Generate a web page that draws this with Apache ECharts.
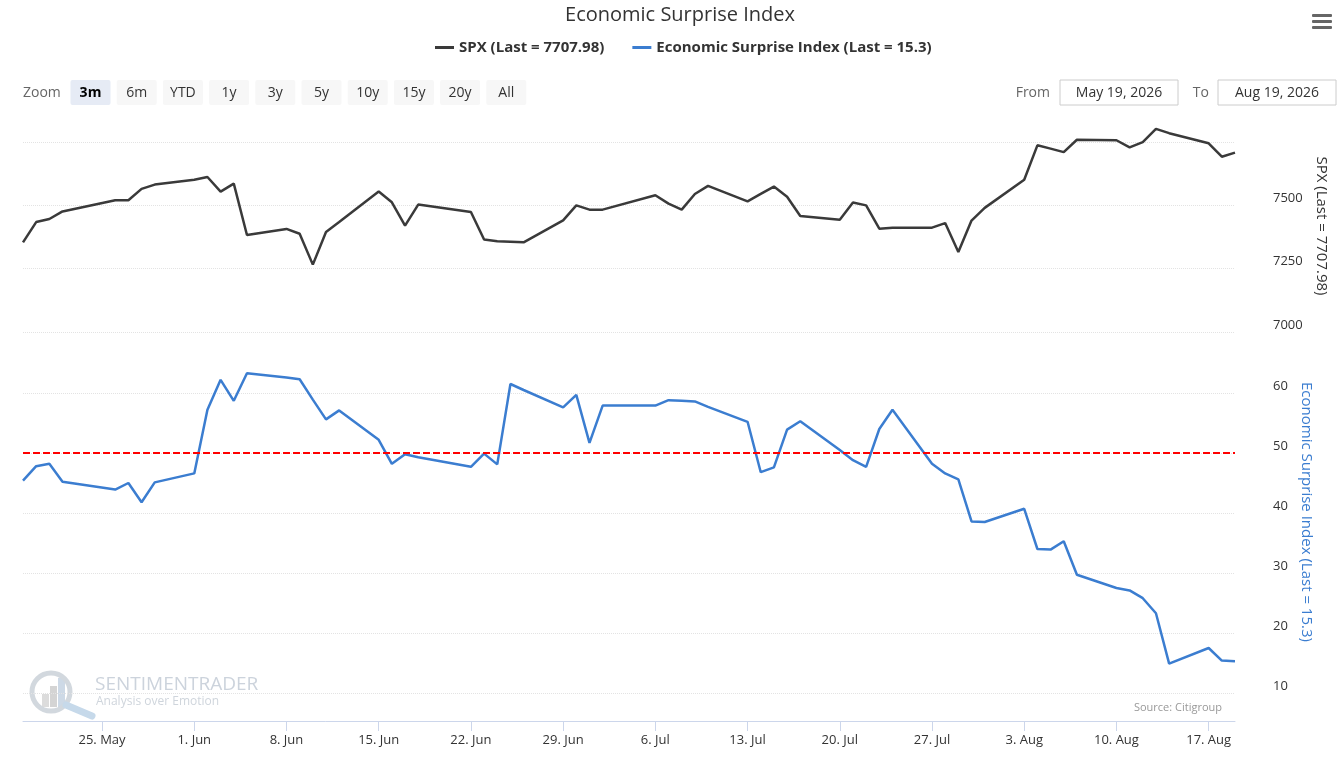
<!DOCTYPE html>
<html lang="en" style="height: 100%">
<head>
<meta charset="utf-8">
<title>Economic Surprise Index</title>
<style>
  html, body { margin: 0; height: 100%; background: #fff; }
  #container { width: 1342px; height: 766px; }
</style>
</head>
<body>
<div id="container"></div>
<script src="https://cdn.jsdelivr.net/npm/echarts@6.0.0/dist/echarts.min.js"></script>
<script>
// trading days shown in the 3m window
var dates = [
  '2026-05-19', '2026-05-20', '2026-05-21', '2026-05-22', '2026-05-26', '2026-05-27', '2026-05-28', '2026-05-29',
  '2026-06-01', '2026-06-02', '2026-06-03', '2026-06-04', '2026-06-05',
  '2026-06-08', '2026-06-09', '2026-06-10', '2026-06-11', '2026-06-12',
  '2026-06-15', '2026-06-16', '2026-06-17', '2026-06-18',
  '2026-06-22', '2026-06-23', '2026-06-24', '2026-06-25', '2026-06-26',
  '2026-06-29', '2026-06-30', '2026-07-01', '2026-07-02',
  '2026-07-06', '2026-07-07', '2026-07-08', '2026-07-09', '2026-07-10',
  '2026-07-13', '2026-07-14', '2026-07-15', '2026-07-16', '2026-07-17',
  '2026-07-20', '2026-07-21', '2026-07-22', '2026-07-23', '2026-07-24',
  '2026-07-27', '2026-07-28', '2026-07-29', '2026-07-30', '2026-07-31',
  '2026-08-03', '2026-08-04', '2026-08-05', '2026-08-06', '2026-08-07',
  '2026-08-10', '2026-08-11', '2026-08-12', '2026-08-13', '2026-08-14',
  '2026-08-17', '2026-08-18', '2026-08-19'
];

var spx = [
  7354, 7434, 7446, 7476, 7520, 7520, 7565, 7582,
  7601, 7612, 7554, 7586, 7383,
  7407, 7388, 7266, 7395, 7434,
  7555, 7512, 7420, 7503,
  7474, 7365, 7358, 7356, 7354,
  7441, 7500, 7483, 7483,
  7540, 7507, 7483, 7545, 7577,
  7516, 7545, 7574, 7534, 7458,
  7443, 7511, 7500, 7408, 7412,
  7412, 7430, 7316, 7440, 7490,
  7601, 7737, 7724, 7710, 7759,
  7757, 7729, 7750, 7802, 7785,
  7745, 7692, 7707.98
];

var esi = [
  45.4, 47.8, 48.2, 45.2, 43.9, 45.0, 41.8, 45.1,
  46.6, 57.2, 62.2, 58.7, 63.3,
  62.6, 62.3, 58.9, 55.6, 57.1,
  52.2, 48.2, 49.8, 49.3,
  47.7, 49.9, 48.1, 61.5, 60.5,
  57.6, 59.7, 51.7, 57.9,
  57.9, 58.8, 58.7, 58.6, 57.7,
  55.2, 46.8, 47.6, 53.9, 55.3,
  50.5, 48.8, 47.7, 54.0, 57.2,
  48.2, 46.6, 45.6, 38.6, 38.5,
  40.7, 34.0, 33.9, 35.3, 29.7,
  27.5, 27.1, 25.8, 23.3, 14.9,
  17.5, 15.4, 15.3
];

var esiReference = 50;

var tickDates = ['2026-05-25', '2026-06-01', '2026-06-08', '2026-06-15', '2026-06-22', '2026-06-29',
  '2026-07-06', '2026-07-13', '2026-07-20', '2026-07-27', '2026-08-03', '2026-08-10', '2026-08-17'];
var tickLabels = ['25. May', '1. Jun', '8. Jun', '15. Jun', '22. Jun', '29. Jun',
  '6. Jul', '13. Jul', '20. Jul', '27. Jul', '3. Aug', '10. Aug', '17. Aug'];
var spxLabels = [7000, 7250, 7500];
var esiLabels = [10, 20, 30, 40, 50, 60];

var zoomButtons = ['3m', '6m', 'YTD', '1y', '3y', '5y', '10y', '15y', '20y', 'All'];
var rangeFrom = 'May 19, 2026';
var rangeTo = 'Aug 19, 2026';

var spxName = 'SPX (Last = 7707.98)';
var esiName = 'Economic Surprise Index (Last = 15.3)';

var SPX_COLOR = '#3a3a3a';
var ESI_COLOR = '#3b7dd0';
var GRID_COLOR = '#e3e3e3';

function ts(s) {
  var p = s.split('-');
  return Date.UTC(+p[0], +p[1] - 1, +p[2]);
}

var tickTs = tickDates.map(ts);
var spxData = dates.map(function (d, i) { return [ts(d), spx[i]]; });
var esiData = dates.map(function (d, i) { return [ts(d), esi[i]]; });

function tickLabel(v) {
  for (var i = 0; i < tickTs.length; i++) {
    if (Math.abs(tickTs[i] - v) < 3600000) return tickLabels[i];
  }
  return '';
}

// range selector, export icon and watermark drawn as graphics
var graphics = [];
graphics.push({
  type: 'text', x: 23, y: 93,
  style: { text: 'Zoom', fontSize: 14, fill: '#666', fontFamily: 'Open Sans', verticalAlign: 'middle' }
});
zoomButtons.forEach(function (b, i) {
  var x = 70.5 + i * 46.2;
  var active = i === 0;
  graphics.push({
    type: 'rect', shape: { x: x, y: 80, width: 40, height: 25, r: 2 },
    style: { fill: active ? '#e6ebf5' : '#f7f7f7' }
  });
  graphics.push({
    type: 'text', x: x + 20, y: 93,
    style: {
      text: b, fontSize: 14, fill: active ? '#000' : '#333',
      fontWeight: active ? 'bold' : 'normal', fontFamily: 'Open Sans',
      align: 'center', verticalAlign: 'middle'
    }
  });
});
graphics.push({
  type: 'text', x: 1050, y: 93,
  style: { text: 'From', fontSize: 14, fill: '#666', fontFamily: 'Open Sans', align: 'right', verticalAlign: 'middle' }
});
graphics.push({
  type: 'rect', shape: { x: 1060, y: 80, width: 118, height: 25 },
  style: { fill: '#fff', stroke: '#cccccc', lineWidth: 1 }
});
graphics.push({
  type: 'text', x: 1119, y: 93,
  style: { text: rangeFrom, fontSize: 14, fill: '#333', fontFamily: 'Open Sans', align: 'center', verticalAlign: 'middle' }
});
graphics.push({
  type: 'text', x: 1209, y: 93,
  style: { text: 'To', fontSize: 14, fill: '#666', fontFamily: 'Open Sans', align: 'right', verticalAlign: 'middle' }
});
graphics.push({
  type: 'rect', shape: { x: 1218, y: 80, width: 118, height: 25 },
  style: { fill: '#fff', stroke: '#cccccc', lineWidth: 1 }
});
graphics.push({
  type: 'text', x: 1277, y: 93,
  style: { text: rangeTo, fontSize: 14, fill: '#333', fontFamily: 'Open Sans', align: 'center', verticalAlign: 'middle' }
});
[14, 20, 26].forEach(function (y) {
  graphics.push({
    type: 'rect', shape: { x: 1312, y: y, width: 20, height: 3, r: 1 },
    style: { fill: '#666' }
  });
});
graphics.push({
  type: 'text', x: 1222, y: 708,
  style: { text: 'Source: Citigroup', fontSize: 11, fill: '#999', fontFamily: 'Open Sans', align: 'right', verticalAlign: 'middle' }
});
// watermark logo
graphics.push({
  type: 'group', silent: true, z: -1,
  children: [
    { type: 'rect', shape: { x: 42, y: 694, width: 7, height: 13 }, style: { fill: '#dcdcdc' } },
    { type: 'rect', shape: { x: 50, y: 686, width: 7, height: 21 }, style: { fill: '#d4d4d4' } },
    { type: 'rect', shape: { x: 58, y: 678, width: 7, height: 29 }, style: { fill: '#cdd9e6' } },
    { type: 'circle', shape: { cx: 51, cy: 692, r: 19 },
      style: { stroke: '#d2d8de', lineWidth: 5, fill: 'none' } },
    { type: 'line', shape: { x1: 66, y1: 705, x2: 92, y2: 716 },
      style: { stroke: '#c6d9ea', lineWidth: 7, lineCap: 'round' } },
    { type: 'text', x: 95, y: 685,
      style: { text: 'SENTIMENTRADER', fontSize: 19, fill: '#ccd3dc', fontFamily: 'Open Sans', verticalAlign: 'middle' } },
    { type: 'text', x: 96, y: 702,
      style: { text: 'Analysis over Emotion', fontSize: 12, fill: '#cfd5dc', fontFamily: 'Open Sans', verticalAlign: 'middle' } }
  ]
});

var dom = document.getElementById('container');
var myChart = echarts.init(dom, null, { renderer: 'canvas' });

var xMin = ts(dates[0]);
var xMax = ts(dates[dates.length - 1]);

var option = {
  animation: false,
  textStyle: { fontFamily: 'Open Sans' },
  title: {
    text: 'Economic Surprise Index',
    left: 675, top: 0, textAlign: 'center',
    textStyle: { fontSize: 20, fontWeight: 'normal', color: '#333' }
  },
  legend: {
    left: 430, top: 35,
    itemWidth: 19, itemHeight: 3, itemGap: 28, icon: 'rect',
    textStyle: { fontSize: 15, fontWeight: 'bold', color: '#333' },
    data: [spxName, esiName]
  },
  graphic: graphics,
  grid: [
    { left: 23, right: 107, top: 120, height: 212 },
    { left: 23, right: 107, top: 333, height: 420 }
  ],
  xAxis: [
    { type: 'value', gridIndex: 0, min: xMin, max: xMax, show: false, splitLine: { show: false } },
    {
      type: 'value', gridIndex: 1, min: xMin, max: xMax, offset: -32,
      axisLine: { show: true, lineStyle: { color: '#ccd6eb', width: 1 } },
      axisTick: { show: true, length: 10, customValues: tickTs, lineStyle: { color: '#ccd6eb' } },
      axisLabel: {
        customValues: tickTs, formatter: tickLabel,
        margin: 13, fontSize: 13, color: '#333'
      },
      splitLine: { show: false }
    }
  ],
  yAxis: [
    {
      type: 'value', gridIndex: 0, position: 'right',
      min: 7000, max: 7837, interval: 250,
      axisLine: { show: false }, axisTick: { show: false },
      splitLine: { show: true, showMaxLine: false, lineStyle: { color: GRID_COLOR, type: 'dotted' } },
      axisLabel: {
        margin: 38, fontSize: 13, color: '#333', verticalAlign: 'bottom', lineHeight: 14,
        formatter: function (v) { return spxLabels.indexOf(v) >= 0 ? String(v) : ''; }
      },
      name: spxName, nameLocation: 'middle', nameRotate: -90, nameGap: 77,
      nameTextStyle: { color: '#333', fontSize: 15 }
    },
    {
      type: 'value', gridIndex: 1, position: 'right',
      min: 0, max: 70, interval: 10,
      axisLine: { show: false }, axisTick: { show: false },
      splitLine: { show: true, showMaxLine: false, showMinLine: false, lineStyle: { color: GRID_COLOR, type: 'dotted' } },
      axisLabel: {
        margin: 38, fontSize: 13, color: '#333', verticalAlign: 'bottom', lineHeight: 14,
        formatter: function (v) { return esiLabels.indexOf(v) >= 0 ? String(v) : ''; }
      },
      name: esiName, nameLocation: 'middle', nameRotate: -90, nameGap: 61,
      nameTextStyle: { color: ESI_COLOR, fontSize: 15, padding: [0, 62, 0, 0] }
    }
  ],
  series: [
    {
      name: spxName, type: 'line', xAxisIndex: 0, yAxisIndex: 0,
      data: spxData, showSymbol: false, color: SPX_COLOR,
      lineStyle: { width: 2.5, color: SPX_COLOR }
    },
    {
      name: esiName, type: 'line', xAxisIndex: 1, yAxisIndex: 1,
      data: esiData, showSymbol: false, color: ESI_COLOR,
      lineStyle: { width: 2.5, color: ESI_COLOR },
      markLine: {
        silent: true, symbol: ['none', 'none'], label: { show: false },
        lineStyle: { color: '#ff0000', type: [7, 3], width: 2 },
        data: [{ yAxis: esiReference }]
      }
    }
  ]
};

myChart.setOption(option);
window.addEventListener('resize', myChart.resize);
</script>
</body>
</html>
